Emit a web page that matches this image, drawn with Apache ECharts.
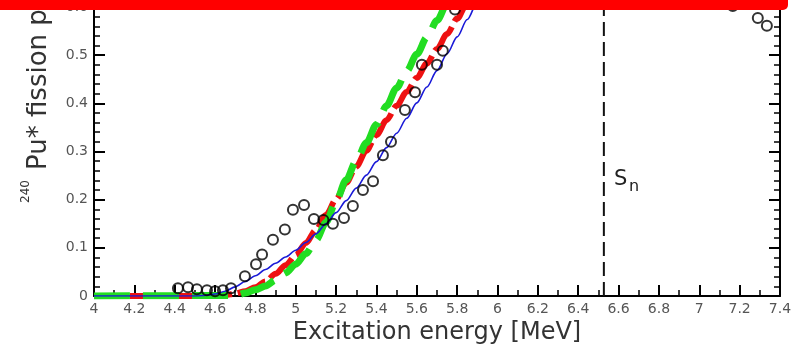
<!DOCTYPE html>
<html>
<head>
<meta charset="utf-8">
<script src="https://cdn.jsdelivr.net/npm/echarts@6/dist/echarts.min.js"></script>
<style>html,body{margin:0;padding:0;background:#fff}#c{width:796px;height:350px}</style>
</head>
<body>
<div id="c"></div>
<script>
// Experimental points (excitation energy MeV, fission probability)
const expE = [4.416,4.466,4.510,4.560,4.600,4.639,4.679,4.748,4.803,4.833,4.887,4.946,4.986,5.041,5.090,5.137,5.184,5.239,5.283,5.333,5.383,5.432,5.472,5.541,5.591,5.625,5.700,5.729,5.789,7.166,7.290,7.335];
const expP = [0.016,0.018,0.014,0.012,0.010,0.012,0.016,0.041,0.066,0.086,0.117,0.138,0.179,0.189,0.160,0.158,0.150,0.162,0.187,0.220,0.238,0.292,0.320,0.386,0.423,0.480,0.480,0.509,0.595,0.602,0.577,0.561];
// Blue thin curve
const blueE = [4.0,4.5,4.55,4.6,4.65,4.7,4.75,4.8,4.85,4.9,4.95,5.0,5.05,5.1,5.15,5.2,5.25,5.3,5.35,5.4,5.45,5.5,5.55,5.6,5.65,5.7,5.75,5.8,5.85,5.9,5.95];
const blueP = [0,0,0.001,0.004,0.010,0.019,0.030,0.042,0.055,0.068,0.081,0.095,0.111,0.129,0.150,0.173,0.198,0.224,0.251,0.279,0.308,0.338,0.369,0.401,0.434,0.468,0.503,0.538,0.574,0.610,0.646];
// Red thick dashed curve
const redE = [4.0,4.6,4.65,4.7,4.75,4.8,4.85,4.9,4.95,5.0,5.05,5.1,5.15,5.2,5.25,5.3,5.35,5.4,5.45,5.5,5.55,5.6,5.65,5.7,5.75,5.8,5.85,5.9];
const redP = [0,0,0.002,0.005,0.010,0.018,0.030,0.046,0.064,0.085,0.110,0.137,0.168,0.201,0.235,0.269,0.302,0.334,0.365,0.395,0.424,0.453,0.483,0.513,0.544,0.576,0.608,0.640];
// Green thick dashed curve
const greenE = [4.0,4.7,4.75,4.8,4.85,4.9,4.95,5.0,5.05,5.1,5.15,5.2,5.25,5.3,5.35,5.4,5.45,5.5,5.55,5.6,5.65,5.7,5.75,5.8];
const greenP = [0,0.001,0.006,0.013,0.021,0.033,0.048,0.066,0.088,0.116,0.153,0.197,0.241,0.281,0.318,0.356,0.395,0.432,0.467,0.502,0.537,0.572,0.607,0.642];
// Neutron separation energy
const snEnergy = 6.527;
const snLine = [0, 0.6];

const zip = (a, b) => a.map((v, i) => [v, b[i]]);
const FONT = 'DejaVu Sans';
const chart = echarts.init(document.getElementById('c'), null, {renderer: 'canvas'});

const yAxisBase = {
  type: 'value', min: 0, max: 0.6, interval: 0.1,
  splitLine: {show: false},
  axisLine: {show: true, lineStyle: {color: '#000', width: 2}},
  axisTick: {show: true, inside: true, length: 11, lineStyle: {color: '#000', width: 2}},
  minorTick: {show: true, splitNumber: 5, length: 6, lineStyle: {color: '#000', width: 1.5}},
  minorSplitLine: {show: false}
};

chart.setOption({
  animation: false,
  backgroundColor: '#fff',
  grid: {left: 94, right: 16, top: 4, bottom: 54},
  xAxis: {
    type: 'value', min: 4, max: 7.4, interval: 0.2,
    name: 'Excitation energy [MeV]', nameLocation: 'middle', nameGap: 21,
    nameTextStyle: {fontFamily: FONT, fontSize: 24, color: '#333'},
    splitLine: {show: false},
    axisLine: {show: true, onZero: false, lineStyle: {color: '#000', width: 2}},
    axisTick: {show: true, inside: true, length: 11, lineStyle: {color: '#000', width: 2}},
    minorTick: {show: true, splitNumber: 2, length: 6, lineStyle: {color: '#000', width: 1.5}},
    minorSplitLine: {show: false},
    axisLabel: {fontFamily: FONT, fontSize: 14, color: '#555', margin: 6}
  },
  yAxis: [
    Object.assign({}, yAxisBase, {
      position: 'left',
      axisLabel: {fontFamily: FONT, fontSize: 14, color: '#555', margin: 6}
    }),
    Object.assign({}, yAxisBase, {
      position: 'right',
      axisLabel: {show: false}
    })
  ],
  series: [
    {
      type: 'line', data: [[snEnergy, snLine[0]], [snEnergy, snLine[1]]],
      symbol: 'none', z: 1,
      lineStyle: {color: '#111', width: 2, type: [14, 6]}
    },
    {
      type: 'line', data: zip(redE, redP), symbol: 'none', smooth: 0.3, smoothMonotone: 'x', z: 2,
      lineStyle: {color: '#ee1111', width: 6, type: [30, 6]}
    },
    {
      type: 'line', data: zip(greenE, greenP), symbol: 'none', smooth: 0.3, smoothMonotone: 'x', z: 3,
      lineStyle: {color: '#22dd22', width: 7, type: [36, 13]}
    },
    {
      type: 'line', data: zip(blueE, blueP), symbol: 'none', smooth: 0.3, smoothMonotone: 'x', z: 4,
      lineStyle: {color: '#1a1ad8', width: 1.6}
    },
    {
      type: 'scatter', data: zip(expE, expP), symbol: 'circle', symbolSize: 10, z: 5, clip: false,
      itemStyle: {color: 'rgba(0,0,0,0)', borderColor: '#000', borderWidth: 2}
    }
  ],
  graphic: [
    {type: 'text', x: 26, y: 203, rotation: Math.PI / 2, z: 50,
     style: {text: '240', fontFamily: FONT, fontSize: 12, fill: '#333', align: 'left', verticalAlign: 'middle'}},
    {type: 'text', x: 39, y: 170, rotation: Math.PI / 2, z: 50,
     style: {text: 'Pu* fission probability', fontFamily: FONT, fontSize: 26, fill: '#333', align: 'left', verticalAlign: 'middle'}},
    {type: 'text', x: 614, y: 169, z: 50,
     style: {text: 'S', fontFamily: FONT, fontSize: 21, fill: '#222', align: 'left', verticalAlign: 'top'}},
    {type: 'text', x: 629, y: 179, z: 50,
     style: {text: 'n', fontFamily: FONT, fontSize: 16, fill: '#222', align: 'left', verticalAlign: 'top'}},
    {type: 'rect', shape: {x: -10, y: -10, width: 798, height: 20, r: 5}, z: 100,
     style: {fill: '#ff0000'}}
  ]
});
</script>
</body>
</html>
